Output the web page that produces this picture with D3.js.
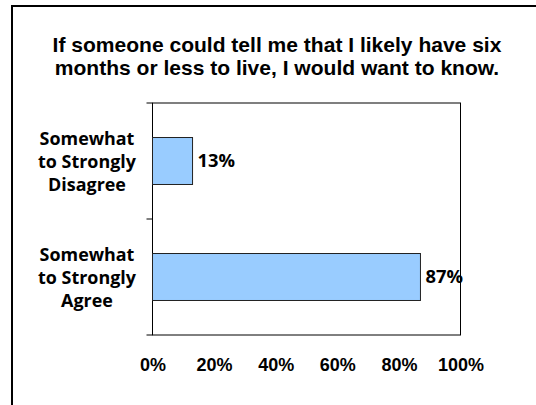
<!DOCTYPE html>
<html>
<head>
<meta charset="utf-8">
<script src="https://cdn.jsdelivr.net/npm/d3@7"></script>
<style>
  html, body { margin: 0; padding: 0; background: #fff; }
  svg { display: block; }
</style>
</head>
<body>
<svg id="chart" width="536" height="405"></svg>
<script>
// Survey responses, top to bottom
const categories = ["Somewhat to Strongly Disagree", "Somewhat to Strongly Agree"];
const categoryLines = [["Somewhat", "to Strongly", "Disagree"], ["Somewhat", "to Strongly", "Agree"]];
const values = [0.13, 0.87];
const valueLabels = ["13%", "87%"];
const tickValues = [0, 0.2, 0.4, 0.6, 0.8, 1.0];
const titleLines = ["If someone could tell me that I likely have six", "months or less to live, I would want to know."];

const svg = d3.select("#chart");
const gothic = "'Open Sans', 'Noto Sans', sans-serif";
const arial = "'Liberation Sans', Arial, sans-serif";

// Scale a text's font size so its rendered width matches a target width
function fitWidth(node, target) {
  const sel = d3.select(node);
  const size = +sel.attr("font-size");
  const w = node.getComputedTextLength();
  if (w > 0) sel.attr("font-size", (size * target / w).toFixed(2));
  return sel.attr("font-size");
}

const plot = { left: 152.5, right: 460.5, top: 103, bottom: 335 };

// Outer frame, its right and bottom edges run past the page
svg.append("rect")
  .attr("x", 12).attr("y", 6)
  .attr("width", 600).attr("height", 500)
  .attr("fill", "none").attr("stroke", "#000").attr("stroke-width", 2);

// Title, two centred lines
{
  const probe = svg.append("text")
    .attr("font-family", arial).attr("font-weight", "bold").attr("font-size", 18)
    .text(titleLines[0]);
  const size = fitWidth(probe.node(), 449);
  probe.remove();
  svg.append("g").selectAll("text").data(titleLines).join("text")
    .attr("text-anchor", "middle")
    .attr("font-family", arial).attr("font-weight", "bold").attr("font-size", size)
    .attr("fill", "#000")
    .attr("x", 277).attr("y", (d, i) => 52 + i * 23)
    .text(d => d);
}

const x = d3.scaleLinear().domain([0, 1]).range([plot.left, plot.right]);
const y = d3.scaleBand().domain(categories).range([plot.top, plot.bottom]).padding(0);
const barFrac = 0.405;

// Plot area border
svg.append("rect")
  .attr("x", plot.left).attr("y", plot.top)
  .attr("width", plot.right - plot.left).attr("height", plot.bottom - plot.top)
  .attr("fill", "none").attr("stroke", "#000").attr("stroke-width", 1);

// Category axis with ticks at band boundaries
const bounds = [plot.top, ...categories.map(c => y(c) + y.bandwidth())];
svg.append("g").selectAll("line").data(bounds).join("line")
  .attr("x1", plot.left - 6).attr("x2", plot.left)
  .attr("y1", d => d).attr("y2", d => d)
  .attr("stroke", "#000").attr("stroke-width", 1);

// Bars
svg.append("g").selectAll("rect").data(categories).join("rect")
  .attr("x", x(0))
  .attr("y", c => y(c) + y.bandwidth() * (1 - barFrac) / 2)
  .attr("width", (c, i) => x(values[i]) - x(0))
  .attr("height", y.bandwidth() * barFrac)
  .attr("fill", "#99CCFF").attr("stroke", "#222").attr("stroke-width", 1);

// Value labels
const valSel = svg.append("g").selectAll("text").data(categories).join("text")
  .attr("x", (c, i) => x(values[i]) + 5)
  .attr("y", c => y(c) + y.bandwidth() / 2 + 6)
  .attr("font-family", gothic).attr("font-weight", "bold").attr("font-size", 15)
  .attr("fill", "#000")
  .text((c, i) => valueLabels[i]);
valSel.attr("font-size", fitWidth(valSel.nodes()[0], 37.5));

// Category labels
const catG = svg.append("g").selectAll("text").data(categories).join("text")
  .attr("text-anchor", "middle")
  .attr("font-family", gothic).attr("font-weight", "bold").attr("font-size", 15)
  .attr("fill", "#000");
catG.selectAll("tspan").data((c, i) => categoryLines[i].map(t => ({ t, c }))).join("tspan")
  .attr("x", 87)
  .attr("y", (d, j) => y(d.c) + y.bandwidth() / 2 - 16 + j * 23)
  .text(d => d.t);
{
  // size the label block from the width of "to Strongly"
  const probe = svg.append("text")
    .attr("font-family", gothic).attr("font-weight", "bold").attr("font-size", 15)
    .text(categoryLines[0][1]);
  catG.attr("font-size", fitWidth(probe.node(), 98));
  probe.remove();
}

// Value axis labels
const xAxis = d3.axisBottom(x).tickValues(tickValues).tickSize(0).tickPadding(0)
  .tickFormat(d3.format(".0%"));
const xg = svg.append("g").attr("transform", `translate(0,${plot.bottom})`).call(xAxis);
xg.select(".domain").remove();
xg.selectAll("text")
  .attr("y", 36).attr("dy", null)
  .attr("font-family", arial).attr("font-weight", "bold").attr("font-size", 18)
  .attr("fill", "#000");
</script>
</body>
</html>
